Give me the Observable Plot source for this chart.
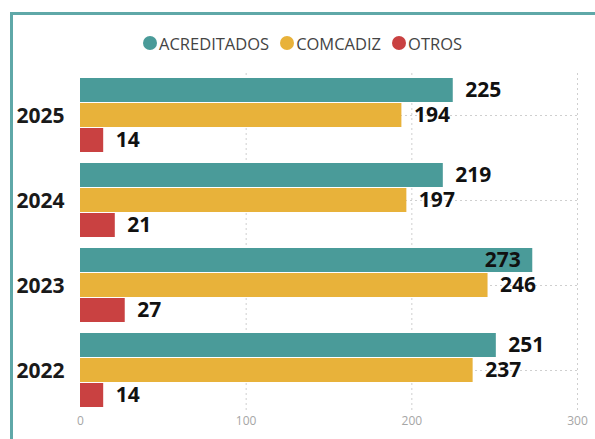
<!DOCTYPE html>
<html>
<head>
<meta charset="utf-8">
<script src="https://cdn.jsdelivr.net/npm/d3@7"></script>
<script src="https://cdn.jsdelivr.net/npm/@observablehq/plot@0.6"></script>
<style>
  html, body { margin: 0; padding: 0; background: #fff; }
  #wrap { position: relative; width: 595px; height: 439px; overflow: hidden; }
  #frame { position: absolute; left: 10px; top: 12px; width: 620px; height: 480px;
           border-left: 3px solid #5fa8a8; border-top: 3px solid #5fa8a8; }
  #legend { position: absolute; left: 143px; top: 34px; height: 18px; display: flex; align-items: center;
            font-family: "Open Sans", sans-serif; font-size: 16.5px; color: #444; white-space: nowrap; }
  #legend .item { display: flex; align-items: center; margin-right: 11px; }
  #legend .dot { width: 14px; height: 14px; border-radius: 50%; margin-right: 2px; }
  #chart { position: absolute; left: 0; top: 0; }
  #chart svg [aria-label^="fy-axis"] text { font-family: "Open Sans", sans-serif; font-weight: 700; font-size: 21px; fill: #1a1a1a; }
  #chart svg [aria-label^="x-axis"] text { font-family: "Open Sans", sans-serif; font-size: 12px; fill: #a6a6a6; }
</style>
</head>
<body>
<div id="wrap">
  <div id="frame"></div>
  <div id="chart"></div>
  <div id="legend"></div>
</div>
<script>
const years = ["2025", "2024", "2023", "2022"];
const series = ["ACREDITADOS", "COMCADIZ", "OTROS"];
const acreditados = [225, 219, 273, 251];
const comcadiz = [194, 197, 246, 237];
const otros = [14, 21, 27, 14];
const colors = ["#4a9b99", "#e8b23a", "#c94141"];
const xTicks = [0, 100, 200, 300];
const gridTicks = [100, 200, 300];

const valuesBySeries = [acreditados, comcadiz, otros];
const rows = [];
years.forEach((year, i) => {
  series.forEach((s, j) => rows.push({year, series: s, value: valuesBySeries[j][i]}));
});
const yearRows = years.map(year => ({year, mid: "COMCADIZ"}));

const labelFont = {fontFamily: "Open Sans, sans-serif", fontWeight: 700, fontSize: 21, fill: "#111"};

const chart = Plot.plot({
  width: 595,
  height: 439,
  marginLeft: 80,
  marginRight: 18,
  marginTop: 71,
  marginBottom: 25,
  style: {background: "transparent"},
  x: {domain: [0, 300], ticks: xTicks, tickSize: 0, tickPadding: 3, label: null},
  y: {domain: series, paddingInner: 0.03, paddingOuter: 0.2, axis: null},
  fy: {domain: years, padding: 0, tickSize: 0, tickPadding: 16, label: null},
  color: {domain: series, range: colors},
  marks: [
    Plot.ruleX(gridTicks, {x: d => d, stroke: "#cfcfcf", strokeDasharray: "2,3", strokeWidth: 1}),
    Plot.ruleY(yearRows, {fy: "year", y: "mid", x1: 0, x2: 300, stroke: "#cfcfcf", strokeDasharray: "2,3", strokeWidth: 1}),
    Plot.barX(rows, {x: "value", y: "series", fy: "year", fill: "series"}),
    Plot.text(rows.filter(d => d.value <= 260), {x: "value", y: "series", fy: "year", text: d => String(d.value),
      textAnchor: "start", dx: 12, ...labelFont}),
    Plot.text(rows.filter(d => d.value > 260), {x: "value", y: "series", fy: "year", text: d => String(d.value),
      textAnchor: "end", dx: -12, ...labelFont})
  ]
});
document.getElementById("chart").appendChild(chart);

const legend = document.getElementById("legend");
series.forEach((s, i) => {
  const item = document.createElement("div");
  item.className = "item";
  const dot = document.createElement("span");
  dot.className = "dot";
  dot.style.background = colors[i];
  const label = document.createElement("span");
  label.textContent = s;
  item.appendChild(dot);
  item.appendChild(label);
  legend.appendChild(item);
});
</script>
</body>
</html>
